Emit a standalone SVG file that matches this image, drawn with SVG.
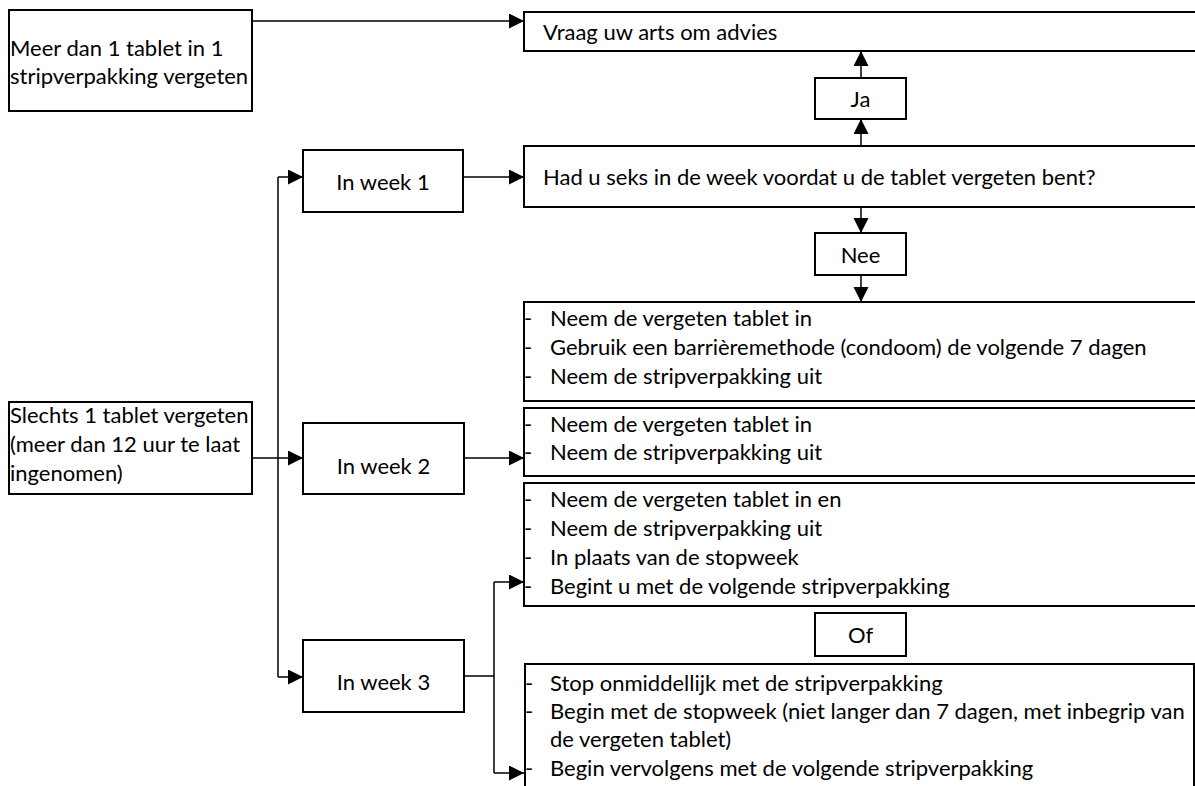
<svg xmlns="http://www.w3.org/2000/svg" width="1195" height="786" viewBox="0 0 1195 786">
<defs>
<marker id="arr" markerUnits="userSpaceOnUse" markerWidth="16" markerHeight="16" refX="15" refY="7.5" orient="auto">
<path d="M0,0 L15,7.5 L0,15 z" fill="#000"/>
</marker>
<style>
.box{fill:#fff;stroke:#000;stroke-width:2}
.t{font-family:Lato,"Open Sans","Liberation Sans",sans-serif;font-size:22px;fill:#000}
.c{text-anchor:middle}
.con{fill:none;stroke:#000;stroke-width:1.5}
.ca{fill:none;stroke:#000;stroke-width:1.5;marker-end:url(#arr)}
</style>
</defs>
<rect width="1195" height="786" fill="#fff"/>

<g id="connectors">
<path class="ca" d="M252,21 H524"/>
<path class="ca" d="M861,78 V51"/>
<path class="ca" d="M861,146 V119"/>
<path class="ca" d="M861,207 V233"/>
<path class="ca" d="M861,275 V302"/>
<path class="con" d="M278,177 V677"/>
<path class="ca" d="M278,177 H303"/>
<path class="ca" d="M278,677 H303"/>
<path class="ca" d="M252,458 H303"/>
<path class="ca" d="M463,177 H524"/>
<path class="ca" d="M464,458 H524"/>
<path class="con" d="M464,676 H494 M494,582 V773"/>
<path class="ca" d="M494,582 H524"/>
<path class="ca" d="M494,773 H524"/>
</g>

<g id="meer">
<rect class="box" x="9" y="10" width="243" height="101"/>
<text class="t" x="10" y="56">Meer dan 1 tablet in 1</text>
<text class="t" x="10" y="84">stripverpakking vergeten</text>
</g>

<g id="vraag">
<rect class="box" x="524" y="12" width="700" height="39"/>
<text class="t" x="543" y="40">Vraag uw arts om advies</text>
</g>

<g id="ja">
<rect class="box" x="815" y="78" width="91" height="41"/>
<text class="t c" x="860.5" y="107">Ja</text>
</g>

<g id="week1">
<rect class="box" x="303" y="150" width="160" height="62"/>
<text class="t c" x="383" y="190">In week 1</text>
</g>

<g id="seks">
<rect class="box" x="524" y="146" width="700" height="61"/>
<text class="t" x="543" y="185">Had u seks in de week voordat u de tablet vergeten bent?</text>
</g>

<g id="nee">
<rect class="box" x="815" y="233" width="91" height="42"/>
<text class="t c" x="860.5" y="263">Nee</text>
</g>

<g id="actie1">
<rect class="box" x="524" y="302" width="700" height="99"/>
<text class="t" x="524" y="326">-</text>
<text class="t" x="550" y="326">Neem de vergeten tablet in</text>
<text class="t" x="524" y="355">-</text>
<text class="t" x="550" y="355">Gebruik een barrièremethode (condoom) de volgende 7 dagen</text>
<text class="t" x="524" y="384">-</text>
<text class="t" x="550" y="384">Neem de stripverpakking uit</text>
</g>

<g id="slechts">
<rect class="box" x="9" y="402" width="243" height="92"/>
<text class="t" x="10" y="423">Slechts 1 tablet vergeten</text>
<text class="t" x="10" y="452">(meer dan 12 uur te laat</text>
<text class="t" x="10" y="481">ingenomen)</text>
</g>

<g id="week2">
<rect class="box" x="303" y="423" width="161" height="71"/>
<text class="t c" x="383.5" y="474">In week 2</text>
</g>

<g id="actie2">
<rect class="box" x="524" y="408" width="700" height="68"/>
<text class="t" x="524" y="432">-</text>
<text class="t" x="550" y="432">Neem de vergeten tablet in</text>
<text class="t" x="524" y="460">-</text>
<text class="t" x="550" y="460">Neem de stripverpakking uit</text>
</g>

<g id="actie3a">
<rect class="box" x="524" y="483" width="700" height="123"/>
<text class="t" x="524" y="507">-</text>
<text class="t" x="550" y="507">Neem de vergeten tablet in en</text>
<text class="t" x="524" y="536">-</text>
<text class="t" x="550" y="536">Neem de stripverpakking uit</text>
<text class="t" x="524" y="565">-</text>
<text class="t" x="550" y="565">In plaats van de stopweek</text>
<text class="t" x="524" y="594">-</text>
<text class="t" x="550" y="594">Begint u met de volgende stripverpakking</text>
</g>

<g id="of">
<rect class="box" x="815" y="613" width="91" height="43"/>
<text class="t c" x="860.5" y="643">Of</text>
</g>

<g id="week3">
<rect class="box" x="303" y="640" width="161" height="72"/>
<text class="t c" x="383.5" y="690">In week 3</text>
</g>

<g id="actie3b">
<rect class="box" x="525" y="664" width="669" height="200"/>
<text class="t" x="525" y="691">-</text>
<text class="t" x="550" y="691">Stop onmiddellijk met de stripverpakking</text>
<text class="t" x="525" y="719">-</text>
<text class="t" x="550" y="719">Begin met de stopweek (niet langer dan 7 dagen, met inbegrip van</text>
<text class="t" x="550" y="747">de vergeten tablet)</text>
<text class="t" x="525" y="776">-</text>
<text class="t" x="550" y="776">Begin vervolgens met de volgende stripverpakking</text>
</g>
</svg>
